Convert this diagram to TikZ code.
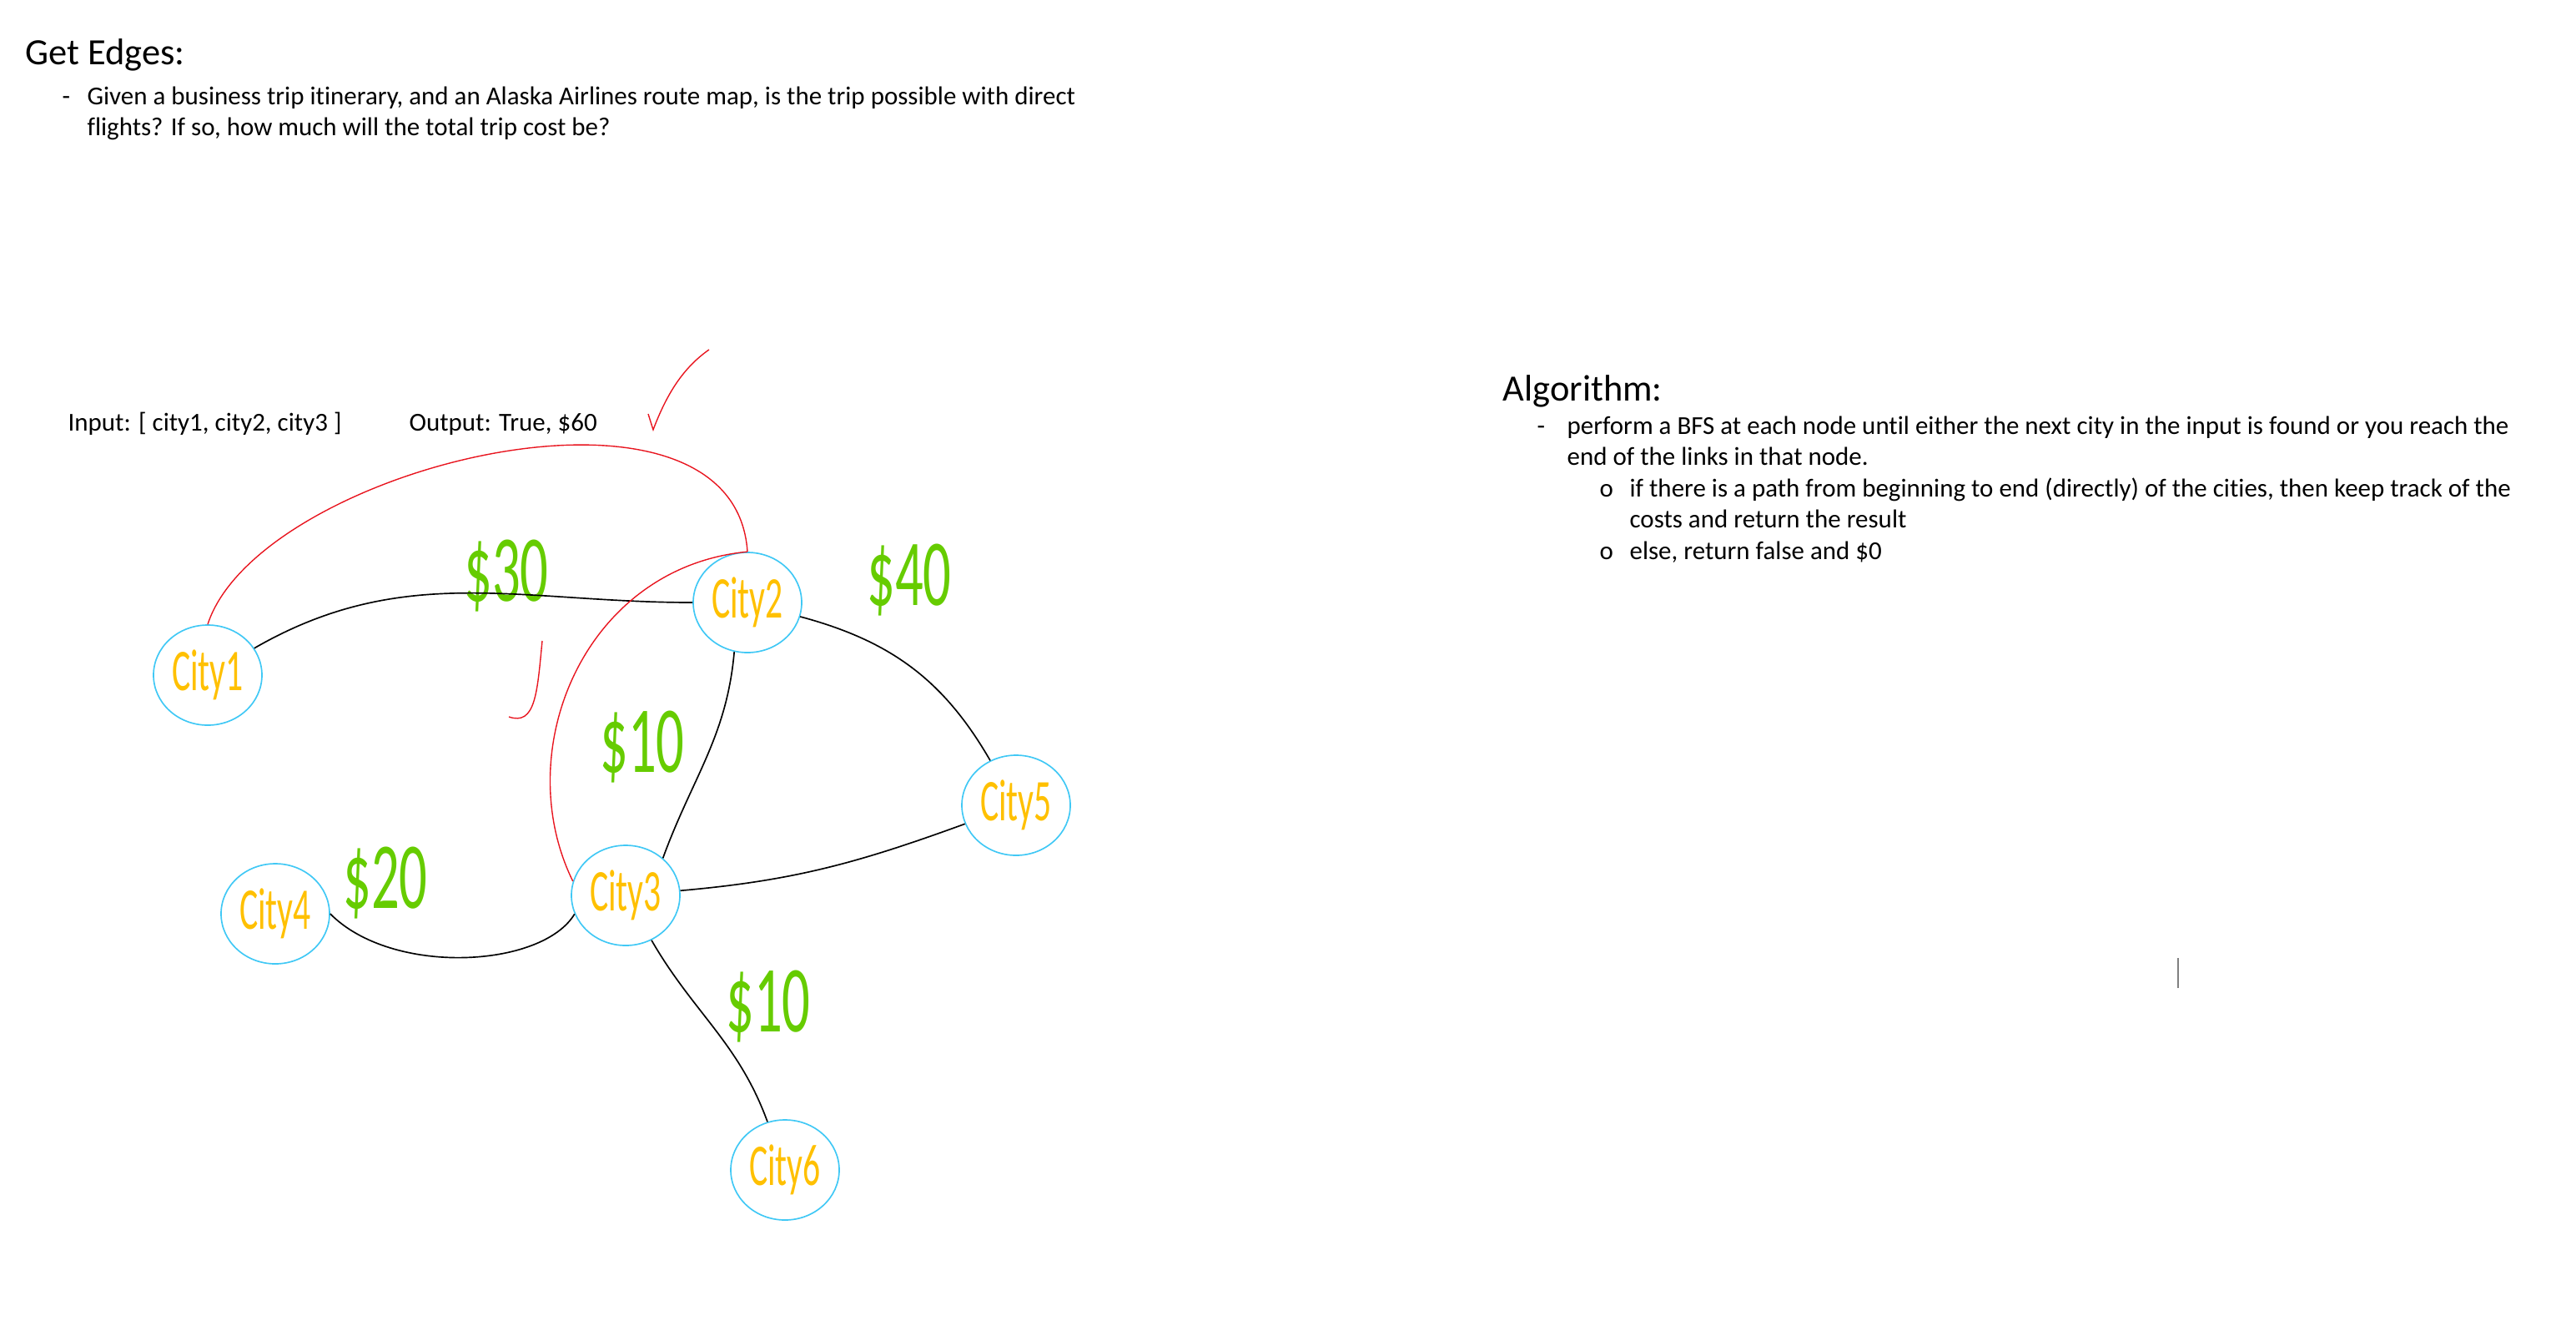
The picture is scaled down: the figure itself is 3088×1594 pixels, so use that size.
\documentclass[tikz,border=0pt]{standalone}
\usepackage{fontspec}
\setmainfont{Carlito}[Ligatures=NoCommon]
\usepackage{graphicx}
\usetikzlibrary{shapes.geometric}
\definecolor{cityblue}{RGB}{64,200,245}
\definecolor{cityorange}{RGB}{255,192,0}
\definecolor{costgreen}{RGB}{102,204,0}
\definecolor{routered}{RGB}{232,20,30}
\newcommand{\hand}[1]{\scalebox{1}[1.7]{#1}}
\tikzset{
	city/.style={draw=cityblue, ellipse, line width=0.6pt, minimum width=46.8pt, minimum height=43.2pt, inner sep=0pt, text=cityorange, font=\fontsize{15}{15}\selectfont},
	cost/.style={text=costgreen, inner sep=0pt, font=\fontsize{24}{24}\selectfont},
	% text lines sit on their baseline
	heading/.style={anchor=base west, inner sep=0pt, font=\fontsize{16}{19}\selectfont},
	linetext/.style={anchor=base west, inner sep=0pt, font=\fontsize{11.15}{13.4}\selectfont},
	route/.style={draw=routered, line width=0.5pt},
}

\begin{document}
\begin{tikzpicture}[x=0.36pt, y=0.36pt]
	\useasboundingbox (0,0) rectangle (3088,-1594);
	
	\node[heading] (getedges) at (30,-77) {Get Edges:};
	\node[linetext] (dash1) at (74,-125) {-};
	\node[linetext] (task1) at (104,-125) {Given a business trip itinerary, and an Alaska Airlines route map, is the trip possible with direct};
	\node[linetext] (task2) at (104,-162) {flights? If so, how much will the total trip cost be?};
	
	\node[linetext] (input) at (81,-516) {Input: [ city1, city2, city3 ]};
	\node[linetext] (output) at (490,-516) {Output: True, \$60};
	
	\node[heading] (algorithm) at (1801,-480) {Algorithm:};
	\node[linetext] (dash2) at (1842,-520) {-};
	\node[linetext] (step1) at (1878,-520) {perform a BFS at each node until either the next city in the input is found or you reach the};
	\node[linetext] (step2) at (1878,-557) {end of the links in that node.};
	\node[linetext] (bullet1) at (1917,-595) {o};
	\node[linetext] (step3) at (1953,-595) {if there is a path from beginning to end (directly) of the cities, then keep track of the};
	\node[linetext] (step4) at (1953,-632) {costs and return the result};
	\node[linetext] (bullet2) at (1917,-670) {o};
	\node[linetext] (step5) at (1953,-670) {else, return false and \$0};
	
	\node[city] (city1) at (249,-809) {\hand{City1}};
	\node[city] (city2) at (896,-722) {\hand{City2}};
	\node[city] (city3) at (750,-1073) {\hand{City3}};
	\node[city] (city4) at (330,-1095) {\hand{City4}};
	\node[city] (city5) at (1218,-965) {\hand{City5}};
	\node[city] (city6) at (941,-1402) {\hand{City6}};
	
	\node[cost] (cost12) at (607,-690) {\hand{\$30}};
	\node[cost] (cost25) at (1090,-695) {\hand{\$40}};
	\node[cost] (cost23) at (770,-895) {\hand{\$10}};
	\node[cost] (cost43) at (462,-1058) {\hand{\$20}};
	\node[cost] (cost36) at (921,-1206) {\hand{\$10}};
	
	\begin{scope}[black, line width=0.6pt]
		\draw (city1) to[out=30, in=180] (city2);
		\draw (city2) to[out=-15, in=120] (city5);
		\draw (city2.-105) to[out=-95, in=70] (city3.45);
		\draw (city3) to[out=5, in=200] (city5);
		\draw (city4.east) .. controls (470,-1170) and (650,-1160) .. (city3.200);
		\draw (city3) to[out=-60, in=110] (city6);
	\end{scope}
	
	% trip city1 -> city2 -> city3
	\draw[route] (city1.north) .. controls (310,-560) and (880,-420) .. (city2.north);
	\draw[route] (city2.north) .. controls (700,-680) and (610,-900) .. (city3.165);
	\draw[route] (777,-496) -- (783,-515) .. controls (800,-470) and (820,-440) .. (850,-419);
	\draw[route] (650,-768) .. controls (644,-830) and (642,-870) .. (610,-859);
	
	\draw[gray, line width=0.5pt] (2611,-1148) -- (2611,-1184);
\end{tikzpicture}
\end{document}
